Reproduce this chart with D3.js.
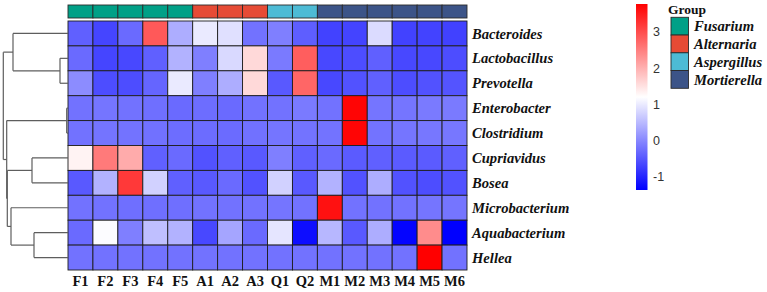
<!DOCTYPE html>
<html>
<head>
<meta charset="utf-8">
<script src="https://cdn.jsdelivr.net/npm/d3@7"></script>
<style>
  html, body { margin: 0; padding: 0; background: #fff; }
  svg { display: block; }
</style>
</head>
<body>
<svg id="chart" width="767" height="292"></svg>
<script>
// ---------------- data ----------------
const samples = ["F1","F2","F3","F4","F5","A1","A2","A3","Q1","Q2","M1","M2","M3","M4","M5","M6"];
const sampleGroups = ["Fusarium","Fusarium","Fusarium","Fusarium","Fusarium",
  "Alternaria","Alternaria","Alternaria","Aspergillus","Aspergillus",
  "Mortierella","Mortierella","Mortierella","Mortierella","Mortierella","Mortierella"];
const groupNames = ["Fusarium","Alternaria","Aspergillus","Mortierella"];
const groupColors = ["#00A087","#E64B35","#4DBBD5","#3C5488"];
const genera = ["Bacteroides","Lactobacillus","Prevotella","Enterobacter","Clostridium",
  "Cupriavidus","Bosea","Microbacterium","Aquabacterium","Hellea"];

const bacteroides    = [-0.39,-0.67,-0.29, 2.87, 0.38, 0.99, 0.89,-0.21,-0.08,-0.41,-0.70,-0.68, 0.84,-0.70,-0.69,-0.71];
const lactobacillus  = [-0.29,-0.67,-0.64,-0.39, 0.43,-0.08, 0.82, 1.59,-0.13, 2.82,-0.64,-0.59,-0.39,-0.64,-0.64,-0.59];
const prevotella     = [ 0.05,-0.59,-0.59,-0.34, 0.99,-0.08, 0.38, 1.59,-0.46, 2.74,-0.64,-0.54,-0.39,-0.59,-0.54,-0.52];
const enterobacter   = [-0.21,-0.18,-0.21,-0.24,-0.29,-0.26,-0.29,-0.21,-0.21,-0.13,-0.21, 3.72,-0.18,-0.18,-0.13,-0.13];
const clostridium    = [-0.21,-0.19,-0.20,-0.22,-0.26,-0.27,-0.28,-0.22,-0.18,-0.20,-0.20, 3.72,-0.20,-0.18,-0.16,-0.16];
const cupriavidus    = [ 1.33, 2.54, 2.05,-0.39,-0.29,-0.54,-0.39,-0.46,-0.08,-0.39,-0.29,-0.44,-0.39,-0.44,-0.44,-0.39];
const bosea          = [-0.46, 0.43, 3.20, 0.74,-0.39,-0.46,-0.29,-0.54, 0.74,-0.46, 0.43,-0.54, 0.38,-0.54,-0.59,-0.54];
const microbacterium = [-0.21,-0.21,-0.24,-0.24,-0.24,-0.21,-0.21,-0.21,-0.18,-0.21, 3.60,-0.21,-0.21,-0.21,-0.18,-0.18];
const aquabacterium  = [-0.29, 1.17,-0.08, 0.56, 0.43,-0.64, 0.30,-0.29, 0.94,-1.23, 0.48,-0.46, 0.38,-1.32, 2.36,-1.36];
const hellea         = [-0.21,-0.21,-0.21,-0.21,-0.21,-0.21,-0.21,-0.21,-0.21,-0.21,-0.21,-0.21,-0.21,-0.21, 3.77,-0.21];
const matrix = [bacteroides, lactobacillus, prevotella, enterobacter, clostridium,
  cupriavidus, bosea, microbacterium, aquabacterium, hellea];

const legendTicks = [-1, 0, 1, 2, 3];

// row dendrogram (merge heights)
const rowTree = { h: 64.7, children: [
  { h: 55, children: [ { name: "Bacteroides" },
    { h: 8, children: [ { name: "Lactobacillus" }, { name: "Prevotella" } ] } ] },
  { h: 61.3, children: [
    { h: 1.3, children: [ { name: "Enterobacter" }, { name: "Clostridium" } ] },
    { h: 60.7, children: [
      { h: 36, children: [ { name: "Cupriavidus" }, { name: "Bosea" } ] },
      { h: 57, children: [ { name: "Microbacterium" },
        { h: 34, children: [ { name: "Aquabacterium" }, { name: "Hellea" } ] } ] } ] } ] } ] };

// ---------------- drawing ----------------
const svg = d3.select("#chart");
const serif = "'Liberation Serif','Times New Roman',serif";

const x = d3.scaleBand().domain(samples).range([68, 467]);
const y = d3.scaleBand().domain(genera).range([21, 270]);

const allVals = matrix.flat();
const [vmin, vmax] = d3.extent(allVals);
const color = d3.scaleLinear()
  .domain([vmin, (vmin + vmax) / 2, vmax])
  .range(["#0000FF", "#FFFFFF", "#FF0000"]);
const groupColor = d3.scaleOrdinal().domain(groupNames).range(groupColors);

// annotation bar
svg.append("g").selectAll("rect").data(samples).join("rect")
  .attr("x", d => x(d)).attr("y", 5)
  .attr("width", x.bandwidth()).attr("height", 13)
  .attr("fill", (d, i) => groupColor(sampleGroups[i]))
  .attr("stroke", "#2a2a2a").attr("stroke-width", 0.9);

// heatmap cells
const cells = [];
genera.forEach((g, r) => samples.forEach((s, c) => cells.push({ g, s, v: matrix[r][c] })));
svg.append("g").selectAll("rect").data(cells).join("rect")
  .attr("x", d => x(d.s)).attr("y", d => y(d.g))
  .attr("width", x.bandwidth()).attr("height", y.bandwidth())
  .attr("fill", d => color(d.v))
  .attr("stroke", "#1e1e1e").attr("stroke-width", 0.9);

// column labels
svg.append("g").selectAll("text").data(samples).join("text")
  .attr("x", d => x(d) + x.bandwidth() / 2).attr("y", 286)
  .attr("text-anchor", "middle")
  .attr("font-family", serif).attr("font-weight", "bold").attr("font-size", 14.5)
  .attr("fill", "#111")
  .text(d => d);

// row labels
svg.append("g").selectAll("text").data(genera).join("text")
  .attr("x", 472).attr("y", d => y(d) + y.bandwidth() / 2)
  .attr("dy", "0.35em")
  .attr("font-family", serif).attr("font-weight", "bold").attr("font-style", "italic")
  .attr("font-size", 14.6).attr("fill", "#111")
  .text(d => d);

// dendrogram
const hx = d3.scaleLinear().domain([0, rowTree.h]).range([68, 3.3]);
const root = d3.hierarchy(rowTree);
root.eachAfter(n => {
  n.hh = n.data.h || 0;
  n.cy = n.children ? d3.mean([n.children[0].cy, n.children[n.children.length - 1].cy])
                    : y(n.data.name) + y.bandwidth() / 2;
});
const dendro = svg.append("g").attr("fill", "none").attr("stroke", "#5e5e5e").attr("stroke-width", 1.2);
root.each(n => {
  if (!n.children) return;
  const xs = hx(n.hh);
  dendro.append("line").attr("x1", xs).attr("x2", xs)
    .attr("y1", n.children[0].cy).attr("y2", n.children[n.children.length - 1].cy);
  n.children.forEach(c => {
    dendro.append("line").attr("x1", xs).attr("x2", hx(c.hh))
      .attr("y1", c.cy).attr("y2", c.cy);
  });
});

// colour legend
const ly = d3.scaleLinear().domain([vmin, vmax]).range([190, 4]);
const defs = svg.append("defs");
const grad = defs.append("linearGradient").attr("id", "cbar")
  .attr("x1", 0).attr("y1", 1).attr("x2", 0).attr("y2", 0);
d3.range(0, 1.0001, 0.05).forEach(t => {
  grad.append("stop").attr("offset", t).attr("stop-color", color(vmin + t * (vmax - vmin)));
});
svg.append("rect").attr("x", 636).attr("y", ly(vmax))
  .attr("width", 11.5).attr("height", ly(vmin) - ly(vmax))
  .attr("fill", "url(#cbar)");
svg.append("g").selectAll("text").data(legendTicks).join("text")
  .attr("x", 653).attr("y", d => ly(d)).attr("dy", "0.35em")
  .attr("font-family", "'Liberation Sans',Arial,sans-serif").attr("font-size", 12.5)
  .attr("fill", "#333")
  .text(d => d);

// group legend
svg.append("text").attr("x", 668).attr("y", 14)
  .attr("font-family", serif).attr("font-weight", "bold").attr("font-size", 13.5)
  .attr("fill", "#111").text("Group");
const gl = d3.scaleBand().domain(groupNames).range([17.3, 88.3]);
svg.append("g").selectAll("rect").data(groupNames).join("rect")
  .attr("x", 671).attr("y", d => gl(d))
  .attr("width", 17.5).attr("height", gl.bandwidth())
  .attr("fill", d => groupColor(d))
  .attr("stroke", "#2a2a2a").attr("stroke-width", 0.9);
svg.append("g").selectAll("text").data(groupNames).join("text")
  .attr("x", 694).attr("y", d => gl(d) + gl.bandwidth() / 2).attr("dy", "0.35em")
  .attr("font-family", serif).attr("font-weight", "bold").attr("font-style", "italic")
  .attr("font-size", 14.6).attr("fill", "#111")
  .text(d => d);
</script>
</body>
</html>
